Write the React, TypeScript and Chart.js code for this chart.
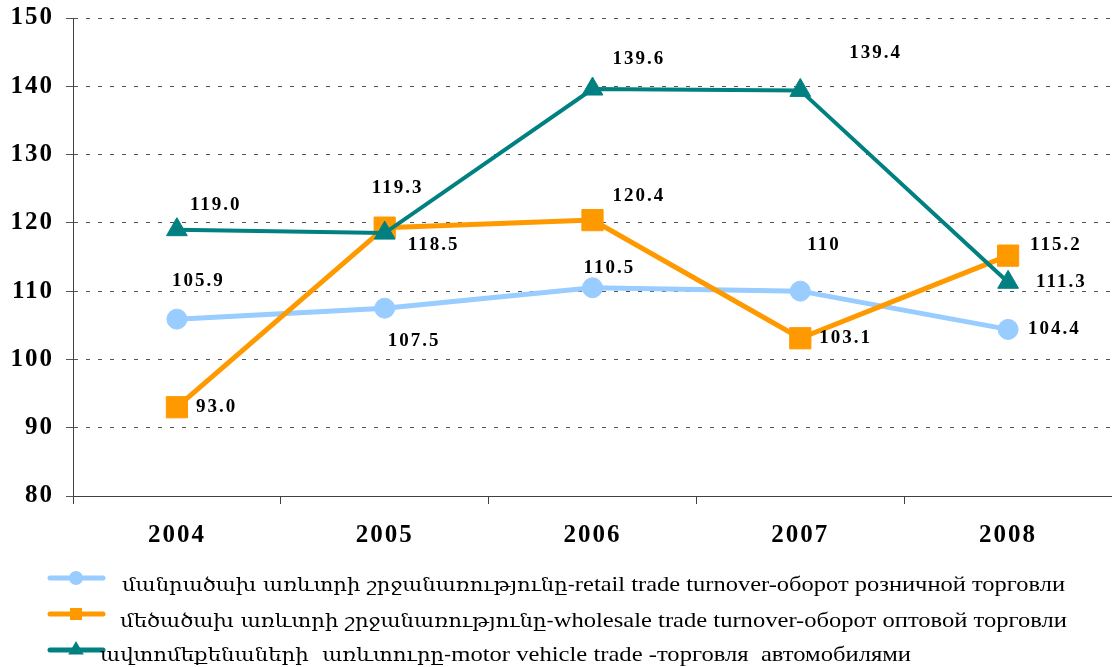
import React, { useEffect, useRef } from 'react';
import { Chart, registerables } from 'chart.js';

Chart.register(...registerables);

const categories = ['2004', '2005', '2006', '2007', '2008'];

const retail = [105.9, 107.5, 110.5, 110, 104.4];
const wholesale = [93.0, 119.3, 120.4, 103.1, 115.2];
const motor = [119.0, 118.5, 139.6, 139.4, 111.3];

const retailLabels = ['105.9', '107.5', '110.5', '110', '104.4'];
const wholesaleLabels = ['93.0', '119.3', '120.4', '103.1', '115.2'];
const motorLabels = ['119.0', '118.5', '139.6', '139.4', '111.3'];

const seriesNames = [
  'մանրածախ առևտրի շրջանառությունը-retail trade turnover-оборот розничной торговли',
  'մեծածախ առևտրի շրջանառությունը-wholesale trade turnover-оборот оптовой торговли',
  'ավտոմեքենաների  առևտուրը-motor vehicle trade -торговля  автомобилями',
];

const yMin = 80;
const yMax = 150;
const yStep = 10;

const COLORS = ['#99CCFF', '#FF9900', '#008080'];

export default function App() {
  const ref = useRef<HTMLCanvasElement>(null);

  useEffect(() => {
    const canvas = ref.current;
    if (!canvas) return;
    const serif = '"Liberation Serif", "Times New Roman", "DejaVu Serif", serif';

    const spacingPlugin = {
      id: 'spacing',
      beforeLayout(c: any) { c.ctx.letterSpacing = '2px'; },
      beforeDraw(c: any) { c.ctx.letterSpacing = '2px'; },
    };

    // label offsets (dx to text left, dy to text middle) per dataset/point
    const labelOffsets = [
      [[-5, -38], [3, 33], [-9, -20], [7, -46], [20, 0]],
      [[19, 0], [-13, -40], [20, -24], [19, 0], [22, -11]],
      [[13, -25], [23, 12], [20, -30], [49, -37], [28, 0]],
    ];
    const labelTexts = [retailLabels, wholesaleLabels, motorLabels];

    const labelsPlugin = {
      id: 'valueLabels',
      afterDatasetsDraw(c: any) {
        const ctx = c.ctx;
        ctx.save();
        ctx.letterSpacing = '2px';
        ctx.font = `bold 19px ${serif}`;
        ctx.fillStyle = '#000';
        ctx.textAlign = 'left';
        ctx.textBaseline = 'middle';
        for (let i = 0; i < 3; i++) {
          const meta = c.getDatasetMeta(i);
          meta.data.forEach((pt: any, j: number) => {
            const [dx, dy] = labelOffsets[i][j];
            ctx.fillText(labelTexts[i][j], pt.x + dx, pt.y + dy);
          });
        }
        ctx.restore();
      },
    };

    const splitName = (s: string) => {
      const m = s.search(/[A-Za-z]/);
      return [s.slice(0, m), s.slice(m)];
    };

    const legendPlugin = {
      id: 'customLegend',
      afterDraw(c: any) {
        const ctx = c.ctx;
        const symY = [578, 614, 650];
        const baseY = [591, 627, 661];
        const textX = [122, 120, 100];
        const textW = [943, 947, 811];
        for (let i = 0; i < 3; i++) {
          ctx.save();
          ctx.letterSpacing = '0px';
          ctx.strokeStyle = COLORS[i];
          ctx.fillStyle = COLORS[i];
          ctx.lineWidth = 5;
          ctx.lineCap = 'round';
          ctx.beginPath();
          ctx.moveTo(50, symY[i]);
          ctx.lineTo(103, symY[i]);
          ctx.stroke();
          const mx = 76;
          const my = symY[i];
          ctx.beginPath();
          if (i === 0) {
            ctx.arc(mx, my, 7, 0, Math.PI * 2);
          } else if (i === 1) {
            ctx.rect(mx - 6, my - 6, 12, 12);
          } else {
            const r = 9;
            ctx.moveTo(mx, my - r);
            ctx.lineTo(mx + r * 0.866, my + r / 2);
            ctx.lineTo(mx - r * 0.866, my + r / 2);
            ctx.closePath();
          }
          ctx.fill();
          const [arm, rest] = splitName(seriesNames[i]);
          const fArm = `19px "DejaVu Serif", serif`;
          const fRest = `22px ${serif}`;
          ctx.font = fArm;
          const wA = ctx.measureText(arm).width;
          ctx.font = fRest;
          const wR = ctx.measureText(rest).width;
          ctx.fillStyle = '#000';
          ctx.textAlign = 'left';
          ctx.textBaseline = 'alphabetic';
          ctx.translate(textX[i], baseY[i]);
          ctx.scale(textW[i] / (wA + wR), 1);
          ctx.font = fArm;
          ctx.fillText(arm, 0, 0);
          ctx.font = fRest;
          ctx.fillText(rest, wA, 0);
          ctx.restore();
        }
      },
    };

    const chart = new Chart(canvas, {
      type: 'line',
      data: {
        labels: categories,
        datasets: [
          {
            label: seriesNames[0],
            data: retail,
            borderColor: COLORS[0],
            backgroundColor: COLORS[0],
            borderWidth: 5,
            pointStyle: 'circle',
            pointRadius: 10,
            pointBorderWidth: 1,
            pointBackgroundColor: COLORS[0],
            pointBorderColor: COLORS[0],
            tension: 0,
            order: 3,
          },
          {
            label: seriesNames[1],
            data: wholesale,
            borderColor: COLORS[1],
            backgroundColor: COLORS[1],
            borderWidth: 5,
            pointStyle: 'rect',
            pointRadius: 15,
            pointBorderWidth: 1,
            pointBackgroundColor: COLORS[1],
            pointBorderColor: COLORS[1],
            tension: 0,
            order: 2,
          },
          {
            label: seriesNames[2],
            data: motor,
            borderColor: COLORS[2],
            backgroundColor: COLORS[2],
            borderWidth: 4,
            pointStyle: 'triangle',
            pointRadius: 12,
            pointBorderWidth: 1,
            pointBackgroundColor: COLORS[2],
            pointBorderColor: COLORS[2],
            tension: 0,
            order: 1,
          },
        ],
      },
      options: {
        responsive: false,
        animation: false,
        layout: { autoPadding: false, padding: { top: 18, left: 0, right: 0, bottom: 0 } },
        plugins: {
          legend: { display: false },
          tooltip: { enabled: false },
        },
        scales: {
          x: {
            type: 'category',
            offset: true,
            grid: {
              offset: true,
              drawOnChartArea: false,
              drawTicks: true,
              tickLength: 8,
              color: '#404040',
            },
            border: { display: true, color: '#404040', width: 1 },
            ticks: {
              color: '#000',
              padding: 17,
              font: { family: serif, size: 25, weight: 'bold' },
              maxRotation: 0,
            },
            afterFit(scale: any) { scale.height = 171; },
          },
          y: {
            min: yMin,
            max: yMax,
            ticks: {
              stepSize: yStep,
              color: '#000',
              padding: 12,
              font: { family: serif, size: 25, weight: 'bold' },
            },
            grid: {
              color: '#555',
              lineWidth: 1,
              drawTicks: true,
              tickLength: 7,
              tickBorderDash: [],
            },
            border: { display: true, color: '#404040', width: 1, dash: [4, 8] },
            afterFit(scale: any) {
              scale.width = 73;
              scale.paddingTop = 0;
              scale.paddingBottom = 0;
            },
          },
        },
      },
      plugins: [spacingPlugin, labelsPlugin, legendPlugin],
    } as any);

    return () => chart.destroy();
  }, []);

  return (
    <div style={{ position: 'absolute', left: 0, top: 0, width: 1112, height: 667, background: '#fff' }}>
      <canvas ref={ref} width={1112} height={667} style={{ display: 'block', width: 1112, height: 667 }} />
    </div>
  );
}
